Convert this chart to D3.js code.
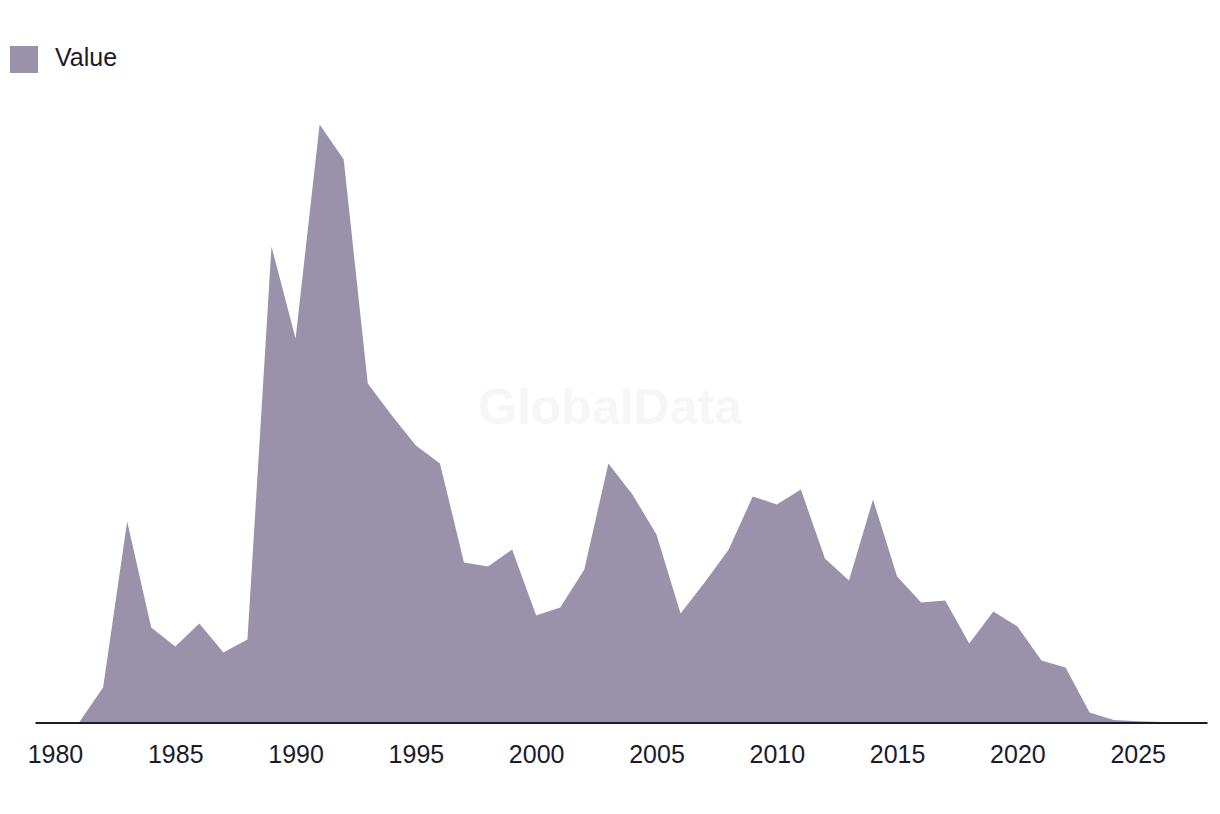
<!DOCTYPE html>
<html>
<head>
<meta charset="utf-8">
<script src="https://cdn.jsdelivr.net/npm/d3@7"></script>
<style>
  html, body { margin: 0; padding: 0; background: #fff; }
  #chart { width: 1220px; height: 814px; }
  text { font-family: "Liberation Sans", Arial, sans-serif; }
</style>
</head>
<body>
<div id="chart"></div>
<script>
// data
const years = [1981, 1982, 1983, 1984, 1985, 1986, 1987, 1988, 1989, 1990,
  1991, 1992, 1993, 1994, 1995, 1996, 1997, 1998, 1999, 2000,
  2001, 2002, 2003, 2004, 2005, 2006, 2007, 2008, 2009, 2010,
  2011, 2012, 2013, 2014, 2015, 2016, 2017, 2018, 2019, 2020,
  2021, 2022, 2023, 2024, 2025, 2026, 2027];
const values = [0, 35, 201, 95, 76, 99, 70, 83, 476, 384,
  598, 563, 339, 307, 277, 259, 160, 156, 173, 107,
  115, 153, 259, 228, 188, 109, 140, 173, 226, 218,
  233, 164, 142, 223, 146, 120, 122, 79, 111, 96,
  62, 55, 10, 2.5, 1.2, 0.6, 0.3];
const tickYears = [1980, 1985, 1990, 1995, 2000, 2005, 2010, 2015, 2020, 2025];
const seriesName = "Value";

const data = years.map((y, i) => ({ year: y, value: values[i] }));

const width = 1220;
const height = 814;
const baseline = 722.5;

const svg = d3.select("#chart").append("svg")
  .attr("width", width)
  .attr("height", height);

// scales
const xScale = d3.scaleLinear().domain([1979.17, 2027.88]).range([35, 1207]);
const yScale = d3.scaleLinear().domain([0, 600]).range([baseline, 122.5]);

// watermark
svg.append("text")
  .attr("x", 610)
  .attr("y", 424)
  .attr("text-anchor", "middle")
  .attr("font-size", 50)
  .attr("font-weight", "bold")
  .attr("fill", "#f6f6f6")
  .text("GlobalData");

// area
const area = d3.area()
  .x((d) => xScale(d.year))
  .y0(yScale(0))
  .y1((d) => yScale(d.value));

svg.append("path")
  .datum(data)
  .attr("d", area)
  .attr("fill", "#9a91aa");

// x axis
const xAxis = d3.axisBottom(xScale)
  .tickValues(tickYears)
  .tickFormat(d3.format("d"))
  .tickSize(0)
  .tickPadding(23);

const gx = svg.append("g")
  .attr("transform", `translate(0, ${baseline})`)
  .call(xAxis);
gx.select(".domain").attr("stroke", "#1c1a2e").attr("stroke-width", 2);
gx.selectAll("text")
  .attr("font-size", 25)
  .attr("fill", "#1c1a2e")
  .attr("font-family", "'Liberation Sans', Arial, sans-serif");

// legend
svg.append("rect")
  .attr("x", 10)
  .attr("y", 46)
  .attr("width", 28)
  .attr("height", 27)
  .attr("fill", "#9a91aa");

svg.append("text")
  .attr("x", 55)
  .attr("y", 66)
  .attr("font-size", 25)
  .attr("fill", "#1c1a2e")
  .text(seriesName);
</script>
</body>
</html>
